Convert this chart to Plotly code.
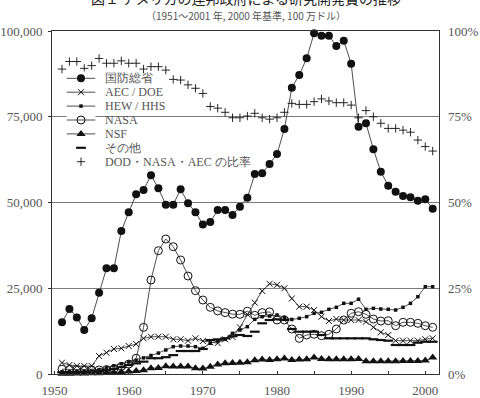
import plotly.graph_objects as go

years = list(range(1951, 2002))

dod = [15070, 18950, 16500, 12830, 16240, 23700, 30800, 30800, 41700, 47140,
       52400, 53640, 57930, 54140, 49360, 49360, 53850, 49770, 47140, 43600,
       44300, 47810, 47810, 46360, 48780, 51400, 58310, 58500, 61220, 64140,
       71430, 83480, 87170, 92030, 99330, 98630, 98630, 95630, 97180, 90470,
       72100, 73080, 65500, 58990, 54900, 53150, 51900, 51500, 50530, 50930,
       48200]

aec_doe = [3300, 2620, 2330, 2330, 2330, 5250, 6210, 7290, 7490, 8160,
           8750, 10400, 10870, 10870, 10870, 10120, 10120, 9710, 10400, 9620,
           9240, 9000, 10120, 10800, 13600, 17400, 20800, 24200, 26300, 26000,
           25000, 22000, 19620, 19620, 18660, 16710, 15450, 16030, 15740, 15740,
           15740, 15250, 13610, 12160, 11370, 9710, 9710, 9710, 9710, 10120,
           10400]

hew_hhs = [700, 700, 800, 900, 1000, 1300, 1800, 2400, 3000, 3500,
           4000, 4700, 5400, 6100, 7000, 7960, 8160, 8160, 7960, 7490,
           8950, 9620, 10120, 11860, 12830, 13800, 15940, 16710, 16910, 17200,
           16530, 15900, 16240, 16710, 17700, 17990, 18860, 19440, 20600, 20600,
           21800, 18860, 19150, 18950, 18860, 18660, 19440, 20600, 22540, 25450,
           25450]

nasa = [1400, 1300, 1300, 1200, 1200, 1200, 1300, 1500, 2200, 2900,
        4600, 13600, 27400, 35950, 39360, 37120, 33240, 28570, 24290, 21570,
        19440, 18400, 17900, 17450, 17400, 18300, 17100, 17900, 18100, 15740,
        15740, 13120, 10400, 11370, 11570, 11170, 11570, 13120, 15740, 17700,
        18160, 17400, 16030, 15450, 15540, 14080, 15070, 15070, 14780, 14080,
        13610]

nsf = [100, 100, 150, 150, 200, 250, 350, 450, 600, 700,
       850, 1100, 1700, 1750, 2250, 2200, 2200, 2200, 1700, 1600,
       2100, 2800, 3100, 3200, 3300, 3400, 4000, 4200, 4100, 4300,
       4500, 4100, 4250, 4300, 4800, 4400, 4300, 4300, 4300, 4300,
       4400, 3700, 3700, 3700, 3700, 3700, 3800, 3800, 3800, 3900,
       4800]

other = [500, 500, 600, 600, 700, 900, 1100, 1500, 2000, 2600,
         3100, 3600, 4600, 4600, 4900, 5500, 6700, 6700, 6700, 7300,
         9900, 10100, 10400, 11000, 11370, 11080, 12330, 14780, 15740, 15940,
         15740, 13120, 12330, 12330, 12330, 11370, 10400, 10400, 10400, 10400,
         10400, 10400, 10120, 9900, 9710, 8450, 8450, 8450, 9130, 9400,
         9400]

ratio = [88.9, 91.1, 91.1, 89.1, 89.9, 92.0, 90.6, 90.6, 91.3, 90.6,
         90.6, 88.9, 89.6, 89.6, 88.6, 85.9, 85.7, 84.3, 83.3, 81.8,
         78.0, 77.5, 76.3, 74.7, 74.7, 75.2, 76.0, 74.7, 74.3, 74.7,
         76.3, 78.9, 78.6, 78.6, 79.4, 80.2, 79.6, 79.1, 79.1, 78.4,
         74.7, 76.8, 75.0, 73.1, 71.6, 71.6, 71.1, 70.5, 68.2, 66.3,
         65.0]

y_ticks = [0, 25000, 50000, 75000, 100000]
y2_ticks = [0, 25, 50, 75, 100]
y2_labels = [f"{v}%" for v in y2_ticks]
x_ticks = [1950, 1960, 1970, 1980, 1990, 2000]

title = "図１ アメリカの連邦政府による研究開発費の推移"
subtitle = "（1951～2001 年, 2000 年基準, 100 万ドル）"

LINE = "#3a3a3a"
MK = "#111111"
TXT = "#555555"
FONT = "Liberation Serif, Times New Roman, DejaVu Serif, serif"
CJK = "Noto Sans CJK JP, sans-serif"

series = [
    dict(name="国防総省", y=dod, mode="lines+markers",
         marker=dict(symbol="circle", size=8, color=MK)),
    dict(name="AEC / DOE", y=aec_doe, mode="lines+markers",
         marker=dict(symbol="x-thin", size=6, color=MK, line=dict(width=1, color=MK))),
    dict(name="HEW / HHS", y=hew_hhs, mode="lines+markers",
         marker=dict(symbol="square", size=3.5, color=MK)),
    dict(name="NASA", y=nasa, mode="lines+markers",
         marker=dict(symbol="circle-open", size=8, color=MK, line=dict(width=1, color=MK))),
    dict(name="NSF", y=nsf, mode="lines+markers",
         marker=dict(symbol="triangle-up", size=8, color=MK)),
    dict(name="その他", y=other, mode="markers",
         marker=dict(symbol="line-ew", size=7, color=MK, line=dict(width=2.2, color=MK))),
]

fig = go.Figure()
for s in series:
    fig.add_trace(go.Scatter(x=years, y=s["y"], mode=s["mode"], name=s["name"],
                             line=dict(color=LINE, width=0.9), marker=s["marker"],
                             showlegend=False, cliponaxis=False))

ratio_marker = dict(symbol="cross-thin", size=6, color=MK, line=dict(width=0.9, color=MK))
fig.add_trace(go.Scatter(x=years, y=ratio, mode="markers", name="DOD・NASA・AEC の比率",
                         marker=ratio_marker, yaxis="y2", showlegend=False, cliponaxis=False))

# ---- manual legend (inset axes, one row per series) ----
legend_items = [(s["name"], s["mode"], s["marker"]) for s in series] + \
               [("DOD・NASA・AEC の比率", "markers", ratio_marker)]
for i, (nm, md, mk) in enumerate(legend_items):
    if "lines" in md:
        fig.add_trace(go.Scatter(x=[0, 2], y=[i, i], mode="lines", xaxis="x3", yaxis="y3",
                                 line=dict(color=LINE, width=0.9), showlegend=False,
                                 hoverinfo="skip", cliponaxis=False))
    fig.add_trace(go.Scatter(x=[1], y=[i], mode="markers", xaxis="x3", yaxis="y3",
                             marker=mk, showlegend=False, hoverinfo="skip", cliponaxis=False))
    fig.add_annotation(x=2, y=i, xref="x3", yref="y3", text=nm, showarrow=False,
                       xanchor="left", yanchor="middle", xshift=7,
                       font=dict(family=FONT, size=12, color=TXT))

W, H = 480, 398
L, R, T, B = 52, 41, 31, 24
pw, ph = W - L - R, H - T - B

def px_x(p):
    return (p - L) / pw

def px_y(p):
    return 1 - (p - T) / ph

row_h = 13.9
fig.update_layout(
    xaxis3=dict(domain=[px_x(66.5), px_x(95.5)], range=[0, 2], visible=False,
                fixedrange=True, automargin=False),
    yaxis3=dict(domain=[px_y(161.7 + row_h / 2), px_y(78.3 - row_h / 2)],
                range=[6.5, -0.5], visible=False, fixedrange=True, anchor="x3",
                automargin=False),
)

fig.add_annotation(x=0.5, y=1, xref="paper", yref="paper", yshift=T + 2, text=title,
                   showarrow=False, xanchor="center", yanchor="middle",
                   font=dict(family=CJK, size=14, color="#222"))
fig.add_annotation(x=0.5, y=1, xref="paper", yref="paper", yshift=16, text=subtitle,
                   showarrow=False, xanchor="center", yanchor="middle",
                   font=dict(family=CJK, size=10, color=TXT))

fig.update_layout(
    width=W, height=H,
    margin=dict(l=L, r=R, t=T, b=B, pad=0, autoexpand=False),
    paper_bgcolor="white", plot_bgcolor="white",
    font=dict(family=FONT, size=12, color=TXT),
    showlegend=False,
    xaxis=dict(range=[1949.65, 2001.85], tickvals=x_ticks, ticks="inside", ticklen=3,
               tickcolor="#333", showgrid=False, zeroline=False, automargin=False,
               showline=True, linecolor="#333", linewidth=1, mirror=True,
               ticklabelstandoff=4,
               tickfont=dict(family=FONT, size=13, color=TXT),
               minor=dict(dtick=5, tick0=1950, ticks="inside", ticklen=3, tickcolor="#333")),
    yaxis=dict(range=[0, 100000], tickvals=y_ticks, tickformat=",d", ticks="outside",
               ticklen=3, tickcolor="#333", showgrid=True, gridcolor="#7a7a7a", gridwidth=1,
               zeroline=False, showline=True, linecolor="#333", linewidth=1, mirror=True,
               ticklabelstandoff=3, automargin=False,
               tickfont=dict(family=FONT, size=13, color=TXT)),
    yaxis2=dict(range=[0, 100], tickvals=y2_ticks, ticktext=y2_labels, overlaying="y",
                side="right", showgrid=False, zeroline=False, showline=False,
                ticks="", ticklabelstandoff=8, automargin=False,
                tickfont=dict(family=FONT, size=13, color=TXT)),
)

fig.write_html("out.html")
